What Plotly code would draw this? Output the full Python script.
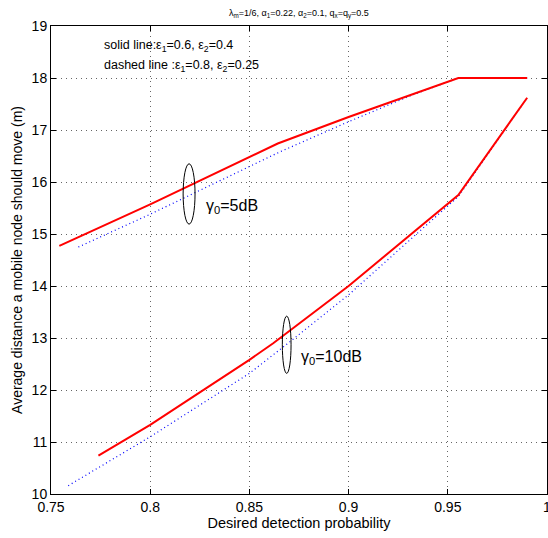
import plotly.graph_objects as go

# ---- data ----
up_solid_x = [0.7542, 0.8, 0.8643, 0.9, 0.9553, 0.99]
up_solid_y = [14.77, 15.57, 16.74, 17.25, 18.0, 18.0]
up_dash_x = [0.7638, 0.8, 0.8654, 0.9, 0.9325, 0.9553, 0.99]
up_dash_y = [14.75, 15.38, 16.58, 17.16, 17.68, 18.0, 18.0]

lo_solid_x = [0.7739, 0.8, 0.85, 0.862, 0.9, 0.9553, 0.99]
lo_solid_y = [10.74, 11.33, 12.58, 12.9, 14.0, 15.75, 17.62]
lo_dash_x = [0.7587, 0.8, 0.85, 0.8705, 0.9, 0.926, 0.9553, 0.99]
lo_dash_y = [10.16, 11.10, 12.32, 12.93, 13.83, 14.72, 15.72, 17.62]

x_ticks = [0.75, 0.8, 0.85, 0.9, 0.95, 1.0]
x_tick_labels = ["0.75", "0.8", "0.85", "0.9", "0.95", "1"]
y_ticks = list(range(10, 20))

# ellipse markers (center x, center y, half width, half height)
ellipses = [(0.8196, 15.77, 0.003, 0.58), (0.8688, 12.87, 0.0022, 0.55)]
gamma_labels = [(0.8272, 15.52, "γ<sub>0</sub>=5dB"), (0.8752, 12.63, "γ<sub>0</sub>=10dB")]

title_text = "λ<sub>m</sub>=1/6, α<sub>1</sub>=0.22, α<sub>2</sub>=0.1, q<sub>x</sub>=q<sub>y</sub>=0.5"
legend_lines = ["solid line:ε<sub>1</sub>=0.6, ε<sub>2</sub>=0.4",
                "dashed line :ε<sub>1</sub>=0.8, ε<sub>2</sub>=0.25"]

FONT = "Liberation Sans, Arial, Helvetica, sans-serif"

L, R, T, B = 51, 1, 26, 44
W, H = 548, 538
pw, ph = W - L - R, H - T - B

fig = go.Figure()
for xs, ys in [(up_dash_x, up_dash_y), (lo_dash_x, lo_dash_y)]:
    fig.add_trace(go.Scatter(x=xs, y=ys, mode="lines",
                             line=dict(color="blue", width=1.2, dash="1px,3px"),
                             showlegend=False, hoverinfo="skip"))
for xs, ys in [(up_solid_x, up_solid_y), (lo_solid_x, lo_solid_y)]:
    fig.add_trace(go.Scatter(x=xs, y=ys, mode="lines",
                             line=dict(color="red", width=2),
                             showlegend=False, hoverinfo="skip"))

for cx, cy, hw, hh in ellipses:
    fig.add_shape(type="circle", xref="x", yref="y",
                  x0=cx - hw, x1=cx + hw, y0=cy - hh, y1=cy + hh,
                  line=dict(color="black", width=1))

annotations = []
for lx, ly, txt in gamma_labels:
    annotations.append(dict(x=lx, y=ly, xref="x", yref="y", text=txt,
                            showarrow=False, xanchor="left", yanchor="middle",
                            font=dict(size=16, color="black", family=FONT)))
for i, txt in enumerate(legend_lines):
    py = 46.5 + i * 19
    annotations.append(dict(x=(102 - L) / pw, y=(H - py - B) / ph, xref="paper", yref="paper",
                            text=txt, showarrow=False, xanchor="left", yanchor="middle",
                            font=dict(size=12.5, color="black", family=FONT)))
annotations.append(dict(x=0.5, y=1.0, xref="paper", yref="paper", text=title_text,
                        showarrow=False, xanchor="center", yanchor="bottom", yshift=4,
                        font=dict(size=9, color="black", family=FONT)))

axis_common = dict(showline=True, linecolor="black", linewidth=1, mirror="ticks",
                   ticks="inside", ticklen=5, tickcolor="black", automargin=False,
                   showgrid=True, gridcolor="rgba(0,0,0,0.6)", griddash="1px,4px", gridwidth=1,
                   zeroline=False, tickfont=dict(size=14, color="black", family=FONT))

fig.update_layout(
    width=W, height=H,
    margin=dict(l=L, r=R, t=T, b=B, autoexpand=False),
    paper_bgcolor="white", plot_bgcolor="white",
    annotations=annotations,
    xaxis=dict(range=[0.75, 1.0], tickvals=x_ticks, ticktext=x_tick_labels,
               ticklabeloverflow="allow",
               title=dict(text="Desired detection probability", standoff=3,
                          font=dict(size=14.5, color="black", family=FONT)),
               **axis_common),
    yaxis=dict(range=[10, 19], tickvals=y_ticks,
               title=dict(text="Average distance a mobile node should move (m)", standoff=5,
                          font=dict(size=14, color="black", family=FONT)),
               **axis_common),
)

fig.write_html("out.html")
